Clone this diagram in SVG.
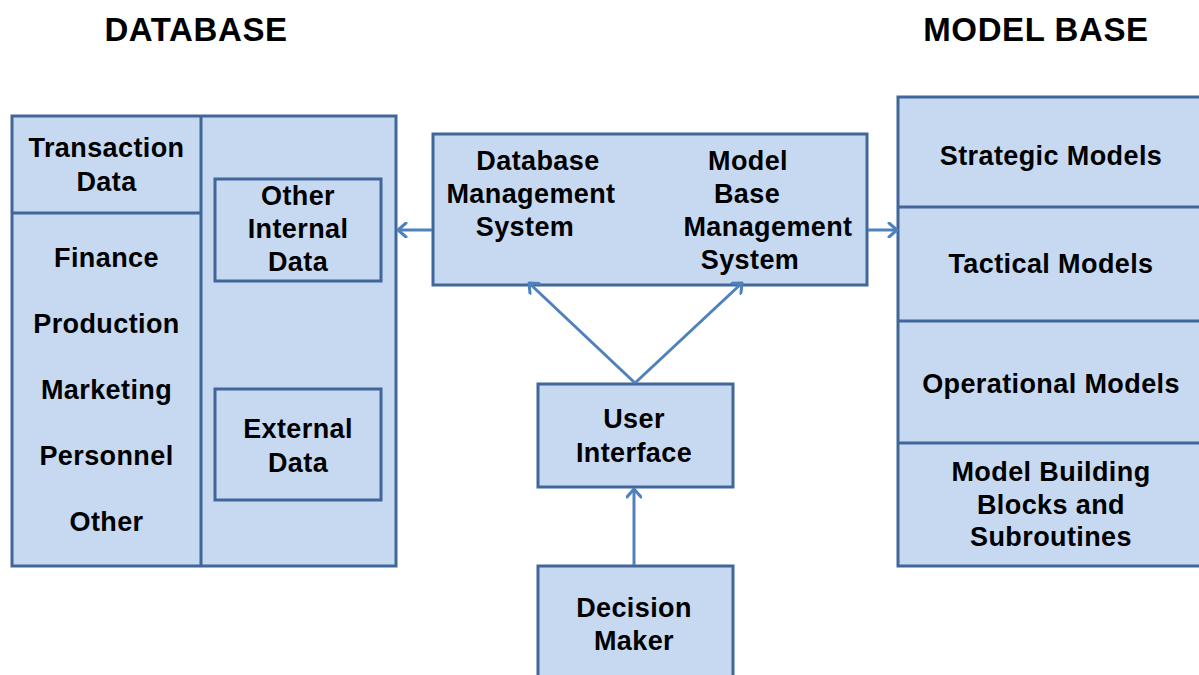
<svg xmlns="http://www.w3.org/2000/svg" width="1199" height="675" viewBox="0 0 1199 675">
<style>
.box{fill:#C6D9F1;stroke:#41679A;stroke-width:3}
.ln{stroke:#41679A;stroke-width:3;fill:none}
.t{font-family:"Liberation Sans",Arial,sans-serif;font-weight:bold;font-size:27px;letter-spacing:0.4px;fill:#000;text-anchor:middle}
.title{font-family:"Liberation Sans",Arial,sans-serif;font-weight:bold;font-size:33px;letter-spacing:0.6px;fill:#000;text-anchor:middle}
.conn{stroke:#4F81BD;stroke-width:3;fill:none}
</style>
<defs>
<marker id="ah" markerUnits="userSpaceOnUse" markerWidth="16" markerHeight="16" viewBox="0 0 16 16" refX="13" refY="8" orient="auto">
<path d="M5,1 L13,8 L5,15" fill="none" stroke="#4F81BD" stroke-width="3" stroke-linecap="round" stroke-linejoin="round"/>
</marker>
</defs>
<rect width="1199" height="675" fill="#fff"/>
<text class="title" x="196" y="41">DATABASE</text>
<text class="title" x="1036" y="41">MODEL BASE</text>

<g id="database">
<rect class="box" x="12" y="116" width="384" height="450"/>
<line class="ln" x1="201" y1="116" x2="201" y2="566"/>
<line class="ln" x1="12" y1="213" x2="201" y2="213"/>
<text class="t" x="106.5" y="157">Transaction</text>
<text class="t" x="106.5" y="191">Data</text>
<text class="t" x="106.5" y="267">Finance</text>
<text class="t" x="106.5" y="333">Production</text>
<text class="t" x="106.5" y="399">Marketing</text>
<text class="t" x="106.5" y="465">Personnel</text>
<text class="t" x="106.5" y="531">Other</text>
</g>
<g id="other-internal-data">
<rect class="box" x="215" y="179" width="166" height="102"/>
<text class="t" x="298" y="205">Other</text>
<text class="t" x="298" y="238">Internal</text>
<text class="t" x="298" y="271">Data</text>
</g>
<g id="external-data">
<rect class="box" x="215" y="389" width="166" height="111"/>
<text class="t" x="298" y="438">External</text>
<text class="t" x="298" y="472">Data</text>
</g>

<g id="management-systems">
<rect class="box" x="433" y="134" width="434" height="151"/>
<text class="t" x="538" y="170">Database</text>
<text class="t" x="531" y="203">Management</text>
<text class="t" x="525" y="236">System</text>
<text class="t" x="748" y="170">Model</text>
<text class="t" x="747" y="203">Base</text>
<text class="t" x="768" y="236">Management</text>
<text class="t" x="750" y="269">System</text>
</g>

<g id="user-interface">
<rect class="box" x="538" y="384" width="195" height="103"/>
<text class="t" x="634" y="428">User</text>
<text class="t" x="634" y="462">Interface</text>
</g>

<g id="decision-maker">
<rect class="box" x="538" y="566" width="195" height="120"/>
<text class="t" x="634" y="617">Decision</text>
<text class="t" x="634" y="650">Maker</text>
</g>

<g id="model-base">
<rect class="box" x="898" y="97" width="310" height="469"/>
<line class="ln" x1="898" y1="207" x2="1208" y2="207"/>
<line class="ln" x1="898" y1="321" x2="1208" y2="321"/>
<line class="ln" x1="898" y1="443" x2="1208" y2="443"/>
<text class="t" x="1051" y="165">Strategic Models</text>
<text class="t" x="1051" y="273">Tactical Models</text>
<text class="t" x="1051" y="393">Operational Models</text>
<text class="t" x="1051" y="481">Model Building</text>
<text class="t" x="1051" y="514">Blocks and</text>
<text class="t" x="1051" y="546">Subroutines</text>
</g>

<g id="connectors">
<line class="conn" x1="432" y1="230" x2="398" y2="230" marker-end="url(#ah)"/>
<line class="conn" x1="868" y1="230" x2="897" y2="230" marker-end="url(#ah)"/>
<line class="conn" x1="635" y1="383" x2="529" y2="283" marker-end="url(#ah)"/>
<line class="conn" x1="635" y1="383" x2="742" y2="283" marker-end="url(#ah)"/>
<line class="conn" x1="634" y1="565" x2="634" y2="489" marker-end="url(#ah)"/>
</g>
</svg>
